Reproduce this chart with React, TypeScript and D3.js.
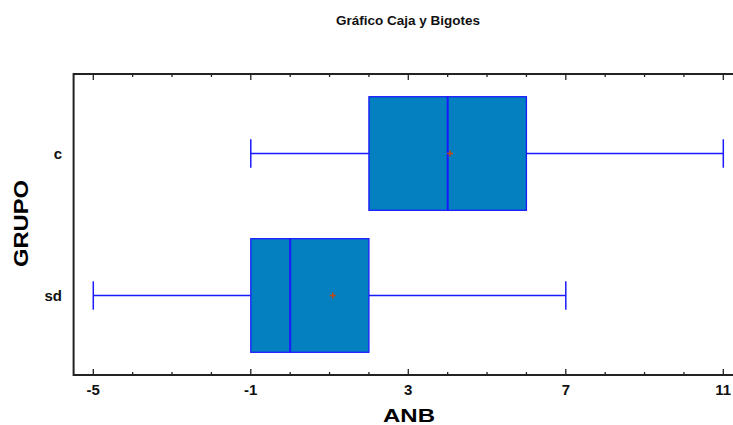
import React, { useRef, useEffect } from "react";
import * as d3 from "d3";

const WIDTH = 733;
const HEIGHT = 425;

// datos del gráfico
const groups = ["c", "sd"];
const mins = [-1, -5];
const q1s = [2, -1];
const medians = [4, 0];
const q3s = [6, 2];
const maxs = [11, 7];
const means = [4.06, 1.08];
const majorTicks = [-5, -1, 3, 7, 11];
const minorTicks = d3.range(-5, 12, 1);

const left = 73.6,
  right = 723.3,
  top = 74,
  bottom = 375;

const BoxPlot = () => {
  const topAxisRef = useRef<SVGGElement>(null);
  const bottomAxisRef = useRef<SVGGElement>(null);

  const x = d3.scaleLinear().domain([-5.5, 11]).range([left, right]);
  const y = d3.scalePoint<string>().domain(groups).range([top, bottom]).padding(0.56);
  const step = y.step();
  const boxH = step * 0.8;
  const capH = step * 0.2;

  useEffect(() => {
    const drawTicks = (ref: SVGGElement | null, dir: number) => {
      const g = d3.select(ref);
      g.selectAll("*").remove();
      g.selectAll("line.minor")
        .data(minorTicks)
        .enter()
        .append("line")
        .attr("x1", (d) => x(d))
        .attr("x2", (d) => x(d))
        .attr("y1", 0)
        .attr("y2", (d) => (majorTicks.includes(d) ? 6 : 3) * dir)
        .attr("stroke", "#222")
        .attr("stroke-width", 1.3);
    };
    drawTicks(topAxisRef.current, 1);
    drawTicks(bottomAxisRef.current, -1);
  });

  return (
    <svg width={WIDTH} height={HEIGHT} style={{ position: "absolute", left: 0, top: 0 }} fontFamily="'Liberation Sans', Arial, sans-serif">
      <rect width={WIDTH} height={HEIGHT} fill="white" />
      <text x={408} y={25} textAnchor="middle" fontSize={13.5} fontWeight="bold" fill="#111">
        Gráfico Caja y Bigotes
      </text>

      {/* marco */}
      <line x1={left} x2={WIDTH} y1={top} y2={top} stroke="#222" strokeWidth={2} />
      <line x1={left} x2={WIDTH} y1={bottom} y2={bottom} stroke="#222" strokeWidth={2} />
      <line x1={left} x2={left} y1={top - 1} y2={bottom + 1} stroke="#222" strokeWidth={2} />
      <g ref={topAxisRef} transform={`translate(0, ${top})`} />
      <g ref={bottomAxisRef} transform={`translate(0, ${bottom})`} />

      {majorTicks.map((t) => (
        <text key={t} x={x(t)} y={395} textAnchor="middle" fontSize={15} fontWeight="bold" fill="#111">
          {t}
        </text>
      ))}
      {groups.map((g) => (
        <text key={g} x={62} y={y(g)!} dy="0.35em" textAnchor="end" fontSize={15} fontWeight="bold" fill="#111">
          {g}
        </text>
      ))}

      <text x={409} y={422} textAnchor="middle" fontSize={19} fontWeight="bold" fill="#000" textLength={52} lengthAdjust="spacingAndGlyphs">
        ANB
      </text>
      <text
        transform={`translate(28, 223.5) rotate(-90)`}
        textAnchor="middle"
        fontSize={20}
        fontWeight="bold"
        fill="#000"
        textLength={87}
        lengthAdjust="spacingAndGlyphs"
      >
        GRUPO
      </text>

      {groups.map((g, i) => {
        const cy = y(g)!;
        return (
          <g key={g}>
            <line x1={x(mins[i])} x2={x(q1s[i])} y1={cy} y2={cy} stroke="#1a1aff" strokeWidth={1.3} />
            <line x1={x(q3s[i])} x2={x(maxs[i])} y1={cy} y2={cy} stroke="#1a1aff" strokeWidth={1.3} />
            <line x1={x(mins[i])} x2={x(mins[i])} y1={cy - capH / 2} y2={cy + capH / 2} stroke="#1a1aff" strokeWidth={1.5} />
            <line x1={x(maxs[i])} x2={x(maxs[i])} y1={cy - capH / 2} y2={cy + capH / 2} stroke="#1a1aff" strokeWidth={1.5} />
            <rect
              x={x(q1s[i])}
              y={cy - boxH / 2}
              width={x(q3s[i]) - x(q1s[i])}
              height={boxH}
              fill="#0480c0"
              stroke="#1a1aff"
              strokeWidth={1.3}
            />
            <line x1={x(medians[i])} x2={x(medians[i])} y1={cy - boxH / 2} y2={cy + boxH / 2} stroke="#1a1aff" strokeWidth={2} />
            <line x1={x(means[i]) - 3} x2={x(means[i]) + 3} y1={cy} y2={cy} stroke="#c04a10" strokeWidth={1.5} />
            <line x1={x(means[i])} x2={x(means[i])} y1={cy - 3} y2={cy + 3} stroke="#c04a10" strokeWidth={1.5} />
          </g>
        );
      })}
    </svg>
  );
};

export default function App() {
  return <BoxPlot />;
}
